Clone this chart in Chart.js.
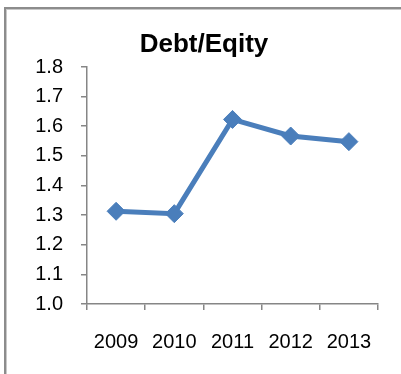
<!DOCTYPE html>
<html lang="en">
<head>
  <meta charset="UTF-8">
  <title>Debt/Eqity</title>
  <script src="https://cdn.jsdelivr.net/npm/chart.js"></script>
  <style>
    html, body {
      margin: 0;
      padding: 0;
      background: #fff;
      overflow: hidden;
    }
    #frame {
      position: absolute;
      left: 4px;
      top: 7px;
      width: 420px;
      height: 420px;
      border-left: 2px solid #8c8c8c;
      border-top: 2px solid #8c8c8c;
      box-shadow: inset 1px 1px 0 #c8c8c8;
    }
    #myChart {
      position: absolute;
      left: 0;
      top: 0;
    }
  </style>
</head>
<body>

<div id="frame"></div>
<canvas id="myChart" width="401" height="374"></canvas>

<script>
  // Yearly debt to equity ratio
  const years = ['2009', '2010', '2011', '2012', '2013'];
  const ratios = [1.313, 1.305, 1.623, 1.567, 1.548];

  const axisColor = '#868686';
  const lineColor = '#4a7ebb';
  const fontFamily = 'Liberation Sans, Arial, sans-serif';

  const config = {
    type: 'line',
    data: {
      labels: years,
      datasets: [{
        label: 'Debt/Eqity',
        data: ratios,
        borderColor: lineColor,
        backgroundColor: lineColor,
        borderWidth: 5,
        tension: 0,
        pointStyle: 'rectRot',
        pointRadius: 9,
        pointBorderWidth: 1,
        pointBackgroundColor: lineColor,
        pointBorderColor: lineColor,
        fill: false
      }]
    },
    options: {
      responsive: false,
      animation: false,
      layout: {
        padding: { left: 30, right: 23, top: 0, bottom: 0 }
      },
      plugins: {
        legend: { display: false },
        tooltip: { enabled: false },
        title: {
          display: true,
          text: 'Debt/Eqity',
          color: '#000',
          font: { family: fontFamily, size: 26, weight: 'bold', lineHeight: 1.2 },
          padding: { top: 29, bottom: 6.8 }
        }
      },
      scales: {
        x: {
          offset: true,
          grid: {
            offset: true,
            drawOnChartArea: false,
            drawTicks: true,
            tickLength: 6,
            color: axisColor,
            lineWidth: 1.5
          },
          border: { color: axisColor, width: 1.5 },
          ticks: {
            color: '#000',
            padding: 20,
            maxRotation: 0,
            font: { family: fontFamily, size: 20 }
          },
          afterFit: function(scale) { scale.height = 70; }
        },
        y: {
          min: 1.0,
          max: 1.8,
          grid: {
            drawOnChartArea: false,
            drawTicks: true,
            tickLength: 6,
            color: axisColor,
            lineWidth: 1.5
          },
          border: { color: axisColor, width: 1.5 },
          ticks: {
            stepSize: 0.1,
            color: '#000',
            padding: 18,
            font: { family: fontFamily, size: 20 },
            callback: function(value) { return Number(value).toFixed(1); }
          },
          afterFit: function(scale) { scale.width = 57; }
        }
      }
    }
  };

  const ctx = document.getElementById('myChart').getContext('2d');
  new Chart(ctx, config);
</script>

</body>
</html>
